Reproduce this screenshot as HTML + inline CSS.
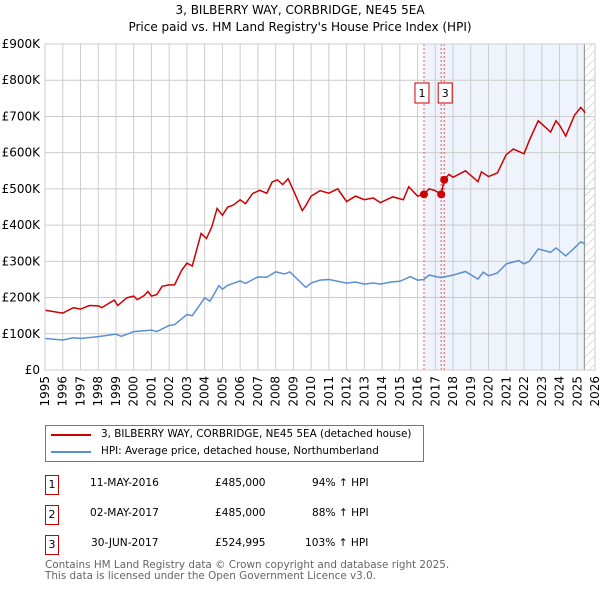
<!DOCTYPE html>
<html><head><meta charset="utf-8"><style>
body{margin:0;background:#fff;font-family:"DejaVu Sans","Liberation Sans",sans-serif;}
#c{position:relative;width:600px;height:590px;overflow:hidden}
svg text{font-family:"DejaVu Sans","Liberation Sans",sans-serif}
.lg{position:absolute;left:45px;top:425px;width:377px;height:35px;border:1px solid #777;font-size:10.4px;white-space:nowrap}
.row{position:absolute;font-size:10.6px;white-space:nowrap}
.nb{position:absolute;left:45px;width:12px;height:18px;border:1px solid #c00;text-align:center;line-height:18px;font-size:11px}
.foot{position:absolute;left:45px;top:560px;font-size:10.4px;color:#666;line-height:10.5px;white-space:nowrap}
</style></head><body><div id="c">
<svg id="s" width="600" height="420" style="position:absolute;left:0;top:0">
<text x="300" y="14" text-anchor="middle" font-size="12">3, BILBERRY WAY, CORBRIDGE, NE45 5EA</text>
<text x="300" y="31" text-anchor="middle" font-size="12">Price paid vs. HM Land Registry's House Price Index (HPI)</text>
<defs><pattern id="h" width="6" height="6" patternUnits="userSpaceOnUse" patternTransform="rotate(45)"><line x1="0" y1="0" x2="0" y2="6" stroke="#bbb" stroke-width="1"/></pattern></defs>
<g id="g"></g>
</svg>
<div class="lg">
<div style="position:absolute;left:5px;top:8px;width:40px;height:2px;background:#c00"></div>
<div style="position:absolute;left:55px;top:2px">3, BILBERRY WAY, CORBRIDGE, NE45 5EA (detached house)</div>
<div style="position:absolute;left:5px;top:25px;width:40px;height:2px;background:#5b8fd0"></div>
<div style="position:absolute;left:55px;top:19px">HPI: Average price, detached house, Northumberland</div>
</div>
<div class="nb" style="top:475px">1</div>
<div class="row" style="left:90px;top:477px">11-MAY-2016</div>
<div class="row" style="left:215px;top:477px">£485,000</div>
<div class="row" style="left:312px;top:477px">94% ↑ HPI</div>
<div class="nb" style="top:505px">2</div>
<div class="row" style="left:90px;top:507px">02-MAY-2017</div>
<div class="row" style="left:215px;top:507px">£485,000</div>
<div class="row" style="left:312px;top:507px">88% ↑ HPI</div>
<div class="nb" style="top:535px">3</div>
<div class="row" style="left:91px;top:537px">30-JUN-2017</div>
<div class="row" style="left:215px;top:537px">£524,995</div>
<div class="row" style="left:305px;top:537px">103% ↑ HPI</div>
<div class="foot">Contains HM Land Registry data © Crown copyright and database right 2025.<br>This data is licensed under the Open Government Licence v3.0.</div>
</div>
<script>
const yTicks=[0,100,200,300,400,500,600,700,800,900];
const yLabels=["£0","£100K","£200K","£300K","£400K","£500K","£600K","£700K","£800K","£900K"];
const years=[1995,1996,1997,1998,1999,2000,2001,2002,2003,2004,2005,2006,2007,2008,2009,2010,2011,2012,2013,2014,2015,2016,2017,2018,2019,2020,2021,2022,2023,2024,2025,2026];
const hpiT=[1995,1996,1996.6,1997,1998,1999,1999.3,2000,2001,2001.3,2002,2002.3,2003,2003.3,2004,2004.3,2004.8,2005,2005.3,2006,2006.3,2007,2007.5,2008,2008.5,2008.8,2009.7,2010,2010.5,2011,2011.5,2012,2012.5,2013,2013.5,2013.9,2014.5,2015,2015.6,2016,2016.36,2016.65,2017.3,2018,2018.7,2019.4,2019.7,2020,2020.5,2021,2021.7,2022,2022.3,2022.8,2023.5,2023.8,2024.35,2024.8,2025.2,2025.45];
const hpiV=[87,83,89,87,92,99,93,106,110,106,123,125,153,150,199,190,233,223,234,246,239,257,256,271,265,271,228,240,248,250,245,240,243,237,240,237,243,245,258,248,250,262,255,262,272,251,270,260,268,293,302,293,300,334,325,337,315,335,354,347];
const redT=[1995,1996,1996.6,1997,1997.5,1998,1998.2,1998.9,1999.1,1999.6,2000,2000.2,2000.6,2000.8,2001,2001.3,2001.6,2002,2002.3,2002.7,2003,2003.3,2003.8,2004.1,2004.4,2004.7,2005,2005.3,2005.6,2006,2006.3,2006.7,2007.1,2007.5,2007.8,2008.1,2008.4,2008.7,2009,2009.5,2009.7,2010,2010.5,2011,2011.5,2012,2012.5,2013,2013.5,2013.9,2014.6,2015.2,2015.5,2016,2016.36,2016.65,2017,2017.33,2017.5,2017.77,2018,2018.7,2019.4,2019.6,2020,2020.5,2021,2021.4,2022,2022.3,2022.8,2023.5,2023.8,2024,2024.35,2024.85,2025.2,2025.45];
const redV=[165,157,172,168,178,177,172,193,178,199,204,194,206,217,204,208,231,235,235,275,295,287,377,363,395,446,427,450,455,470,459,487,496,488,519,525,512,528,496,440,454,480,495,488,500,465,480,470,475,462,478,470,506,480,485,500,495,485,525,540,532,550,520,547,534,544,595,610,597,634,688,657,688,676,646,704,725,710];
const saleT=[2016.36,2017.33,2017.5];
const saleV=[485,485,525];
const saleLbl=["1","2","3"];
const X0=45,X1=595,Y0=370,Y1=44;
const xs=t=>X0+(t-1995)*(X1-X0)/31;
const ys=v=>Y0-v*(Y0-Y1)/900;
const g=document.getElementById('g');
const NS='http://www.w3.org/2000/svg';
function mk(tag,a){const e=document.createElementNS(NS,tag);for(const k in a)e.setAttribute(k,a[k]);g.appendChild(e);return e;}
let r=mk('rect',{x:xs(saleT[0]),y:Y1,width:xs(2025.4)-xs(saleT[0]),height:Y0-Y1,fill:'#eef3fc'});


r=mk('rect',{x:xs(2025.4),y:Y1,width:X1-xs(2025.4),height:Y0-Y1,fill:'url(#h)'});


yTicks.forEach((v,i)=>{
 let l=mk('line',{x1:X0,x2:X1,y1:ys(v),y2:ys(v),stroke:'#ccc'});
 
 
 let t=mk('text',{x:40,y:ys(v)+4,'text-anchor':'end','font-size':12});t.textContent=yLabels[i];
 
 
});
years.forEach(y=>{
 let l=mk('line',{x1:xs(y),x2:xs(y),y1:Y1,y2:Y0,stroke:'#ccc'});
 
 
 let t=mk('text',{transform:`translate(${xs(y)+4},${Y0+6}) rotate(-90)`,'text-anchor':'end','font-size':12});t.textContent=y;
 
 
});
let b=mk('line',{x1:xs(2025.4),x2:xs(2025.4),y1:Y1,y2:Y0,stroke:'#888'});


saleT.forEach((t,i)=>{
 let l=mk('line',{x1:xs(t),x2:xs(t),y1:Y1,y2:Y0,stroke:'#e55','stroke-dasharray':'2,2'});
 
 
});
let p=mk('polyline',{points:hpiT.map((t,i)=>xs(t)+','+ys(hpiV[i])).join(' '),fill:'none',stroke:'#5b8fd0','stroke-width':1.5});


p=mk('polyline',{points:redT.map((t,i)=>xs(t)+','+ys(redV[i])).join(' '),fill:'none',stroke:'#cc0000','stroke-width':1.5});


saleT.forEach((t,i)=>{
 let c=mk('circle',{cx:xs(t),cy:ys(saleV[i]),r:4,fill:'#cc0000'});
 
 
});
const lblX=[xs(saleT[0])-8,xs(saleT[1])-3,xs(saleT[2])-5];
[0,2,1].forEach(i=>{
 if(i===1)return;
 let bx=mk('rect',{x:lblX[i]-1,y:83,width:14,height:20,fill:'#fff',stroke:'#c00'});
 
 
 let t=mk('text',{x:lblX[i]+6,y:97,'text-anchor':'middle','font-size':11});t.textContent=saleLbl[i];
 
 
});
let fr=mk('rect',{x:X0,y:Y1,width:X1-X0,height:Y0-Y1,fill:'none',stroke:'#ccc'});


</script>
</body></html>
